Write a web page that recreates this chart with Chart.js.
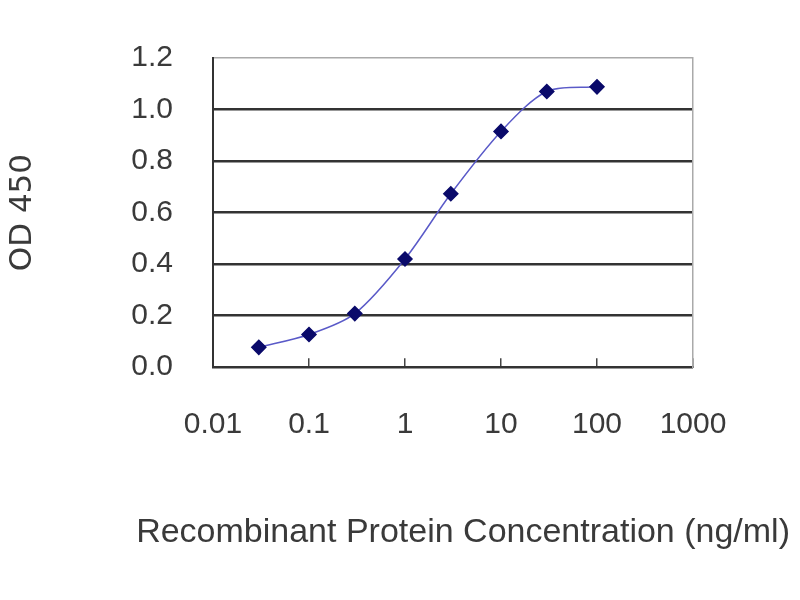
<!DOCTYPE html>
<html>
<head>
<meta charset="utf-8">
<title>OD 450 vs concentration</title>
<script src="https://cdn.jsdelivr.net/npm/chart.js@4/dist/chart.umd.min.js"></script>
<style>
    html, body { margin: 0; padding: 0; background: #fff; }
    #wrap { width: 800px; height: 600px; }
</style>
</head>
<body>
<div id="wrap"><canvas id="odChart" width="800" height="600"></canvas></div>
<script>
// Data
const concentrations = [0.03, 0.1, 0.3, 1, 3, 10, 30, 100];
const od450 = [0.077, 0.127, 0.208, 0.42, 0.673, 0.915, 1.07, 1.088];

// Axis ticks
const xTickValues = [0.01, 0.1, 1, 10, 100, 1000];
const xTickLabels = ['0.01', '0.1', '1', '10', '100', '1000'];
const yTickValues = [0, 0.2, 0.4, 0.6, 0.8, 1.0, 1.2];

const points = concentrations.map((c, i) => ({ x: c, y: od450[i] }));

const tickFont = '"Liberation Sans", Arial, sans-serif';
const titleFont = '"DejaVu Sans", Verdana, sans-serif';
const textColor = '#3a3a3a';

const ctx = document.getElementById('odChart').getContext('2d');

new Chart(ctx, {
    type: 'line',
    data: {
        datasets: [
            {
                label: 'OD 450',
                data: points,
                borderColor: '#5a5ac8',
                borderWidth: 1.5,
                tension: 0.3,
                pointStyle: 'rectRot',
                pointRadius: 7,
                pointBackgroundColor: '#0a0a6a',
                pointBorderColor: '#0a0a6a',
                fill: false,
            },
        ],
    },
    options: {
        responsive: false,
        animation: false,
        layout: {
            padding: { top: 55, right: 10, bottom: 47, left: 0 },
        },
        plugins: {
            legend: { display: false },
            tooltip: { enabled: false },
            // x axis title: drawn as chart title so it can be wider than the plot
            title: {
                display: true,
                position: 'bottom',
                align: 'end',
                text: 'Recombinant Protein Concentration (ng/ml)',
                color: textColor,
                font: { family: tickFont, size: 34, weight: 'normal' },
                padding: { top: 0, bottom: 0 },
            },
        },
        scales: {
            x: {
                type: 'logarithmic',
                min: 0.01,
                max: 1000,
                afterBuildTicks: function (scale) {
                    scale.ticks = xTickValues.map(v => ({ value: v }));
                },
                afterFit: function (scale) {
                    scale.height = 145;
                },
                grid: {
                    drawOnChartArea: false,
                    drawTicks: true,
                    tickLength: -9,
                    color: '#444',
                    lineWidth: 1.5,
                },
                border: { color: '#333', width: 2 },
                ticks: {
                    padding: 49,
                    autoSkip: false,
                    maxRotation: 0,
                    color: textColor,
                    font: { family: tickFont, size: 30 },
                    callback: function (value, index) {
                        return xTickLabels[index];
                    },
                },
            },
            y: {
                min: 0,
                max: 1.2,
                afterBuildTicks: function (scale) {
                    scale.ticks = yTickValues.map(v => ({ value: v }));
                },
                afterFit: function (scale) {
                    scale.width = 213;
                },
                grid: {
                    drawTicks: false,
                    color: function (context) {
                        return context.tick && context.tick.value >= 1.2 ? '#aaaaaa' : '#333333';
                    },
                    lineWidth: function (context) {
                        return context.tick && context.tick.value >= 1.2 ? 1.5 : 2.5;
                    },
                },
                border: { color: '#333', width: 2 },
                ticks: {
                    padding: 40,
                    color: textColor,
                    font: { family: tickFont, size: 30 },
                    callback: function (value) {
                        return value.toFixed(1);
                    },
                },
                title: {
                    display: true,
                    text: 'OD 450',
                    color: textColor,
                    font: { family: titleFont, size: 31 },
                    padding: { top: 4, bottom: 0 },
                },
            },
            // right edge of the plot frame, also leaves room on the right
            yRight: {
                position: 'right',
                min: 0,
                max: 1.2,
                afterFit: function (scale) {
                    scale.width = 97;
                },
                grid: { display: false },
                ticks: { display: false },
                border: { color: '#aaaaaa', width: 1.5 },
            },
        },
    },
});
</script>
</body>
</html>
